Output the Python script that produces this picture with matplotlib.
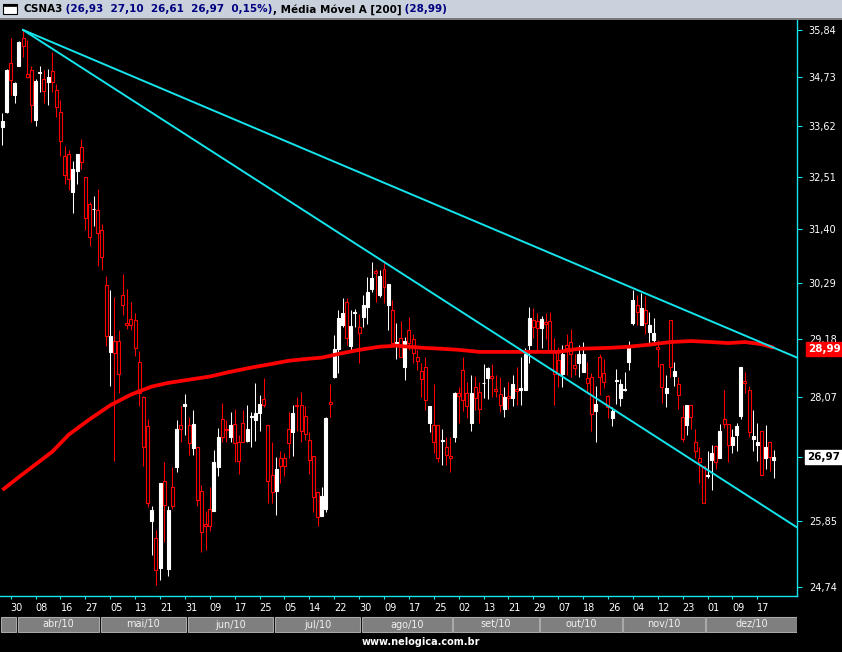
import matplotlib
matplotlib.use('Agg')
import matplotlib.pyplot as plt
import matplotlib.transforms as mtransforms
from matplotlib.patches import Rectangle
from matplotlib.ticker import NullLocator, NullFormatter
import numpy as np

# daily candles CSNA3, 26/mar/10 .. 23/dez/10
opens = [
    33.60, 33.94, 35.05, 34.33, 34.99, 35.65, 34.81, 34.90, 33.76, 34.83,
    34.69, 34.62, 34.88, 34.44, 33.94, 32.95, 33.00, 32.17, 32.62, 33.15,
    32.49, 31.93, 31.81, 31.80, 31.37, 30.25, 28.93, 29.14, 29.14, 30.05,
    29.49, 29.57, 29.55, 28.74, 28.08, 27.53, 25.85, 25.56, 25.05, 26.54,
    25.04, 26.44, 26.79, 27.55, 27.90, 27.55, 27.13, 27.15, 26.37, 25.80,
    26.06, 26.02, 26.79, 27.66, 27.49, 27.34, 27.58, 27.24, 27.60, 27.27,
    27.71, 27.64, 27.78, 28.03, 27.55, 26.65, 26.37, 26.95, 26.96, 27.49,
    27.42, 27.93, 27.93, 27.73, 27.29, 27.00, 26.35, 25.93, 26.06, 27.99,
    28.46, 28.99, 29.45, 29.91, 29.05, 29.69, 29.41, 29.61, 29.81, 30.17,
    30.53, 30.05, 30.57, 29.85, 29.75, 29.10, 29.20, 28.65, 29.36, 29.18,
    28.84, 28.57, 28.65, 27.60, 27.55, 27.55, 27.27, 27.15, 27.00, 27.34,
    28.15, 28.59, 28.15, 27.60, 28.27, 28.17, 28.33, 28.44, 28.47, 28.23,
    28.14, 27.86, 28.10, 28.05, 28.23, 28.21, 28.21, 29.07, 29.55, 29.53,
    29.40, 29.51, 29.53, 28.93, 28.78, 28.51, 29.07, 29.12, 28.68, 28.72,
    28.55, 28.44, 28.46, 27.82, 28.84, 28.53, 28.10, 27.69, 28.38, 28.05,
    28.21, 28.74, 29.49, 29.85, 29.45, 29.75, 29.32, 29.16, 29.03, 28.70,
    28.15, 29.55, 28.47, 28.31, 27.71, 27.55, 27.92, 27.25, 26.96, 26.82,
    26.63, 26.93, 27.18, 26.96, 27.66, 27.58, 27.20, 27.38, 27.73, 28.38,
    28.21, 27.31, 27.20, 27.45, 26.96, 27.24, 26.93,
]
highs = [
    33.92, 34.92, 35.65, 34.62, 35.58, 35.84, 35.60, 35.00, 34.69, 35.00,
    34.90, 34.92, 35.32, 34.58, 34.21, 33.17, 33.08, 32.84, 33.00, 33.34,
    32.49, 31.97, 32.10, 32.25, 31.50, 30.43, 30.15, 30.01, 29.36, 30.47,
    30.17, 29.91, 29.69, 28.95, 28.10, 27.66, 26.11, 25.70, 26.52, 26.88,
    26.11, 26.79, 27.64, 27.90, 28.14, 27.71, 27.84, 27.15, 26.47, 26.02,
    26.45, 27.11, 27.51, 27.97, 27.64, 27.80, 27.86, 27.38, 27.84, 27.92,
    27.80, 28.34, 28.12, 28.44, 27.55, 27.24, 26.98, 27.09, 27.05, 27.80,
    27.92, 28.08, 28.17, 27.90, 27.42, 27.00, 26.35, 26.45, 27.71, 28.31,
    29.26, 29.75, 29.99, 29.99, 29.75, 29.77, 29.67, 30.05, 30.41, 30.72,
    30.57, 30.55, 30.70, 30.27, 29.95, 29.49, 29.53, 29.22, 29.61, 29.28,
    28.97, 28.72, 28.84, 27.90, 28.31, 27.55, 27.49, 27.34, 27.34, 28.17,
    28.27, 28.84, 28.36, 28.49, 28.47, 28.36, 28.70, 28.65, 28.69, 28.49,
    28.46, 28.27, 28.36, 28.49, 28.65, 28.84, 29.01, 29.81, 29.79, 29.69,
    29.63, 29.69, 29.71, 29.20, 29.03, 29.07, 29.28, 29.38, 28.88, 29.07,
    29.12, 28.74, 28.53, 28.29, 28.88, 28.80, 28.12, 27.88, 28.61, 28.42,
    28.55, 29.14, 30.15, 30.05, 30.09, 30.03, 29.71, 29.59, 29.16, 28.70,
    28.49, 29.55, 28.74, 28.46, 27.93, 27.93, 27.92, 27.49, 27.15, 26.82,
    27.09, 27.20, 27.20, 27.58, 28.21, 27.58, 27.49, 27.60, 28.65, 28.55,
    28.29, 27.84, 27.60, 27.45, 27.55, 27.24, 27.10,
]
lows = [
    33.19, 33.92, 34.33, 34.15, 34.99, 35.20, 34.72, 33.72, 33.62, 34.38,
    34.15, 34.10, 34.38, 33.83, 32.95, 32.34, 32.21, 31.74, 32.34, 32.68,
    31.37, 31.05, 31.46, 30.64, 30.55, 29.05, 28.29, 26.91, 28.15, 29.65,
    29.38, 29.36, 28.86, 27.90, 26.82, 26.10, 25.27, 24.77, 24.85, 25.49,
    24.92, 26.06, 26.70, 27.24, 27.38, 27.02, 27.02, 26.11, 25.32, 25.35,
    25.68, 26.02, 26.63, 27.24, 27.24, 27.24, 26.88, 26.67, 27.24, 27.25,
    27.15, 27.27, 27.44, 27.88, 26.17, 26.17, 25.95, 26.52, 26.63, 26.95,
    27.00, 27.44, 27.24, 27.29, 26.67, 26.00, 25.76, 25.93, 26.00, 27.71,
    28.44, 28.53, 29.41, 29.07, 28.97, 29.41, 28.72, 29.41, 29.47, 30.11,
    29.91, 30.01, 29.89, 29.36, 29.07, 28.80, 28.84, 28.40, 28.97, 28.72,
    28.59, 28.08, 27.84, 27.42, 27.05, 26.88, 26.84, 26.84, 26.70, 27.24,
    27.60, 27.82, 27.68, 27.45, 27.84, 27.60, 28.05, 28.03, 28.08, 28.08,
    27.79, 27.71, 27.86, 27.90, 27.93, 27.93, 28.21, 28.72, 29.20, 28.97,
    29.01, 29.18, 28.91, 27.93, 28.27, 28.27, 28.49, 28.46, 28.49, 28.46,
    28.55, 28.15, 27.44, 27.25, 28.12, 28.25, 27.69, 27.53, 27.95, 27.90,
    28.19, 28.59, 29.45, 29.45, 29.45, 29.28, 29.10, 29.07, 28.65, 27.97,
    27.88, 28.46, 28.29, 27.86, 27.25, 27.38, 27.49, 26.96, 26.51, 26.17,
    26.60, 26.39, 26.76, 26.96, 27.51, 26.88, 27.05, 27.09, 27.66, 28.15,
    27.33, 27.09, 26.91, 26.65, 26.76, 26.72, 26.61,
]
closes = [
    33.74, 34.90, 34.67, 34.60, 35.55, 35.46, 34.74, 34.10, 34.64, 34.85,
    34.42, 34.74, 34.62, 34.06, 33.28, 32.55, 32.46, 32.68, 33.00, 32.82,
    31.63, 31.23, 31.82, 31.31, 30.82, 29.24, 29.24, 28.91, 28.51, 29.85,
    29.45, 29.45, 29.01, 28.15, 27.15, 26.17, 26.04, 25.02, 26.52, 26.13,
    26.04, 26.11, 27.49, 27.49, 27.95, 27.22, 27.57, 26.21, 25.66, 25.76,
    25.76, 26.89, 27.34, 27.34, 27.47, 27.55, 27.22, 26.91, 27.25, 27.49,
    27.73, 27.77, 27.95, 27.92, 26.54, 26.35, 26.76, 26.81, 26.81, 27.22,
    27.78, 27.90, 27.45, 27.40, 26.93, 26.26, 25.92, 26.28, 27.68, 27.95,
    28.99, 29.59, 29.69, 29.20, 29.43, 29.71, 29.30, 29.85, 30.11, 30.39,
    30.49, 30.43, 30.21, 30.27, 29.10, 29.12, 28.84, 29.14, 29.10, 28.91,
    28.76, 28.42, 28.01, 27.90, 27.25, 26.96, 27.29, 27.02, 26.95, 28.15,
    28.10, 28.01, 27.90, 28.15, 28.06, 27.86, 28.34, 28.63, 28.44, 28.19,
    27.93, 28.08, 28.06, 28.31, 28.19, 28.25, 28.88, 29.59, 29.41, 29.40,
    29.57, 29.47, 28.93, 28.51, 28.53, 28.89, 29.01, 28.88, 28.63, 28.88,
    28.89, 28.34, 27.75, 27.95, 28.46, 28.36, 27.88, 27.82, 28.40, 28.31,
    28.23, 29.05, 29.95, 29.71, 29.79, 29.49, 29.45, 29.30, 28.99, 28.27,
    28.25, 28.65, 28.57, 28.12, 27.31, 27.92, 27.71, 27.09, 26.88, 26.17,
    26.65, 27.05, 26.88, 27.45, 27.58, 27.20, 27.34, 27.53, 28.65, 28.34,
    27.42, 27.36, 27.25, 26.65, 27.16, 26.98, 26.97,
]

# 200-day moving average, sampled at bar indices
ma_idx = [0, 4, 9, 12, 16, 21, 26, 31, 36, 40, 45, 50, 55, 60, 65, 69, 74, 77,
          81, 86, 91, 95, 101, 106, 110, 115, 125, 134, 139, 147, 151, 156,
          161, 166, 171, 175, 179, 183, 186]
ma_val = [26.39, 26.62, 26.90, 27.07, 27.38, 27.66, 27.92, 28.12, 28.27, 28.34,
          28.40, 28.46, 28.55, 28.63, 28.70, 28.76, 28.80, 28.82, 28.89, 28.97,
          29.03, 29.05, 29.01, 28.99, 28.97, 28.93, 28.93, 28.93, 28.99, 29.01,
          29.03, 29.07, 29.12, 29.14, 29.12, 29.10, 29.12, 29.08, 29.01]

# trend lines (bar index, price)
trend_up_x, trend_up_y = [5, 191.6], [35.84, 28.82]
trend_dn_x, trend_dn_y = [5, 191.6], [35.84, 25.74]

ytick_vals = [35.84, 34.73, 33.62, 32.51, 31.40, 30.29, 29.18, 28.07, 26.97, 25.85, 24.74]
xtick_idx = list(range(2, 183, 6))
xtick_lab = ['30', '08', '16', '27', '05', '13', '21', '31', '09', '17', '25',
             '05', '14', '22', '30', '09', '17', '25', '02', '13', '21', '29',
             '07', '18', '26', '04', '12', '23', '01', '09', '17']
month_lab = ['', 'abr/10', 'mai/10', 'jun/10', 'jul/10', 'ago/10', 'set/10',
             'out/10', 'nov/10', 'dez/10']
month_start = [0, 4, 24, 45, 66, 87, 109, 130, 150, 170]

last_close = 26.97
last_ma = 28.99

W, H = 842, 652
CYAN = '#14e4ec'
plt.rcParams['font.family'] = ['DejaVu Sans']

fig = plt.figure(figsize=(W / 100, H / 100), dpi=100, facecolor='black')
ax = fig.add_axes([0, (H - 596) / H, 797 / W, 576 / H], facecolor='black')

o = np.array(opens); h = np.array(highs); l = np.array(lows); c = np.array(closes)
x = np.arange(len(c))
up = c >= o

ax.vlines(x, l, h, colors=np.where(up, 'white', 'red'), linewidth=0.75, zorder=2)
for xi, oi, ci, u in zip(x, o, c, up):
    lo, hi = min(oi, ci), max(oi, ci)
    ax.add_patch(Rectangle((xi - 0.36, lo), 0.72, hi - lo,
                           facecolor='white' if u else 'black',
                           edgecolor='white' if u else 'red',
                           linewidth=0.8, zorder=3))

ax.plot(ma_idx, ma_val, color='red', lw=2.7, zorder=4, solid_capstyle='butt')
ax.plot(trend_up_x, trend_up_y, color=CYAN, lw=1.4, zorder=5)
ax.plot(trend_dn_x, trend_dn_y, color=CYAN, lw=1.4, zorder=5)

ax.set_yscale('log')
ax.set_ylim(24.593, 36.079)
ax.set_xlim(-0.578, 191.57)
# the last-close box sits on top of its own tick, so that tick gets no label
ylabels = ['' if v == last_close else f'{v:.2f}'.replace('.', ',') for v in ytick_vals]
ax.set_yticks(ytick_vals, labels=ylabels)
ax.yaxis.set_minor_locator(NullLocator())
ax.yaxis.set_minor_formatter(NullFormatter())
ax.yaxis.tick_right()
ax.set_xticks(xtick_idx, labels=xtick_lab)
ax.tick_params(axis='y', colors=CYAN, labelcolor='white', length=3.5, width=0.8,
               pad=5, labelsize=7)
ax.tick_params(axis='x', colors=CYAN, labelcolor='white', length=2.5, width=0.8,
               pad=2.5, labelsize=7)
for lab in ax.get_xticklabels():
    lab.set_ha('left')
for s in ['left', 'top']:
    ax.spines[s].set_visible(False)
for s in ['bottom', 'right']:
    ax.spines[s].set_color(CYAN)
    ax.spines[s].set_linewidth(1.0)

# value boxes on the right
bt = mtransforms.blended_transform_factory(ax.transAxes, ax.transData)
ax.text(1 + 11 / 797, last_ma, f'{last_ma:.2f}'.replace('.', ','), transform=bt,
        color='white', fontsize=7.5, fontweight='bold', va='center', ha='left',
        clip_on=False, zorder=10,
        bbox=dict(boxstyle='square,pad=0.18', facecolor='red', edgecolor='red'))
ax.text(1 + 10 / 797, last_close, f'{last_close:.2f}'.replace('.', ','), transform=bt,
        color='black', fontsize=7.5, fontweight='bold', va='center', ha='left',
        clip_on=False, zorder=10,
        bbox=dict(boxstyle='square,pad=0.18', facecolor='white', edgecolor='white'))

# month bar
mx = fig.add_axes([0, (H - 633) / H, 797 / W, 17 / H], facecolor='black')
mx.set_xlim(ax.get_xlim())
mx.set_ylim(0, 1)
mx.axis('off')
edges = [ax.get_xlim()[0] + 0.25] + [m - 0.5 for m in month_start[1:]] + [ax.get_xlim()[1]]
for i, lab in enumerate(month_lab):
    a = edges[i] + (0.22 if i > 0 else 0)
    b = edges[i + 1] - (0.22 if i < len(month_lab) - 1 else 0.1)
    mx.add_patch(Rectangle((a, 0.04), b - a, 0.92, facecolor='#7f7f7f',
                           edgecolor='#a9a9a9', linewidth=0.8))
    if lab:
        mx.text((a + b) / 2, 0.5, lab, color='#f0f0f0', fontsize=7,
                ha='center', va='center')

# title bar
def px(x0, y0, w, h_):
    return (x0 / W, 1 - (y0 + h_) / H), w / W, h_ / H

(xy, w_, h_) = px(0, 0, W, 18)
fig.patches.append(Rectangle(xy, w_, h_, transform=fig.transFigure,
                             facecolor='#c9d1dc', edgecolor='none'))
(xy, w_, h_) = px(0, 18, W, 2)
fig.patches.append(Rectangle(xy, w_, h_, transform=fig.transFigure,
                             facecolor='#7a7a7a', edgecolor='none'))
(xy, w_, h_) = px(3, 4, 14, 10)
fig.patches.append(Rectangle(xy, w_, h_, transform=fig.transFigure,
                             facecolor='white', edgecolor='black', linewidth=0.8))
(xy, w_, h_) = px(3, 4, 14, 2)
fig.patches.append(Rectangle(xy, w_, h_, transform=fig.transFigure,
                             facecolor='black', edgecolor='black', linewidth=0.5))

title_parts = [
    ('CSNA3', 'black'),
    (' (26,93  27,10  26,61  26,97  0,15%)', '#000080'),
    (', Média Móvel A [200]', 'black'),
    (' (28,99)', '#000080'),
]
renderer = fig.canvas.get_renderer()
xpos = 23
for txt, col in title_parts:
    t = fig.text(xpos / W, 1 - 9.5 / H, txt, color=col, fontsize=7.5,
                 fontweight='bold', va='center', ha='left')
    xpos = t.get_window_extent(renderer).x1

fig.text(421 / W, 1 - 642 / H, 'www.nelogica.com.br', color='white', fontsize=7,
         fontweight='bold', ha='center', va='center')

fig.savefig('out.png', dpi=100, facecolor='black')
